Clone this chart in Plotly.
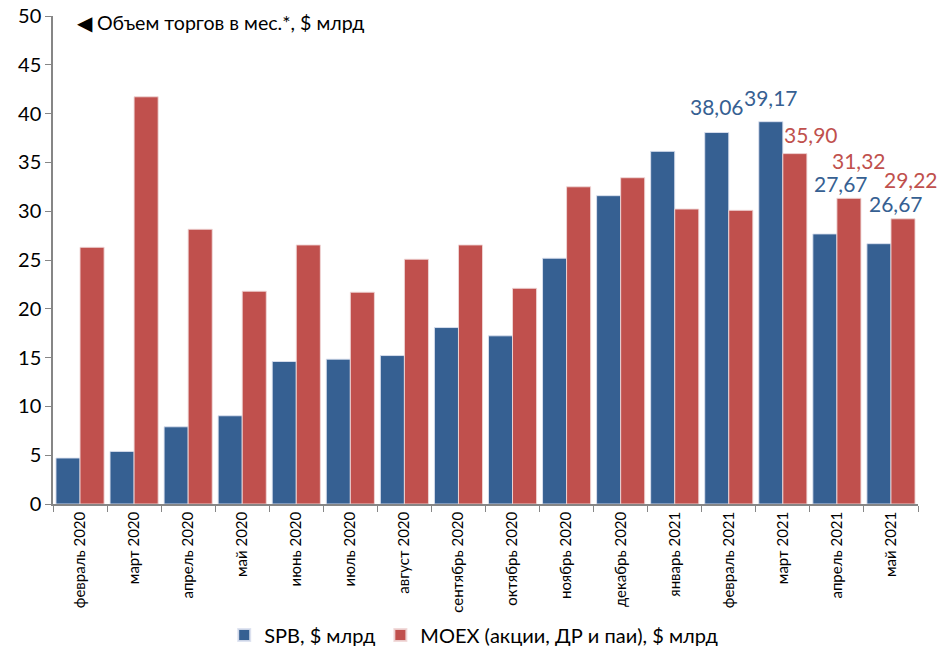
import plotly.graph_objects as go

categories = ["февраль 2020", "март 2020", "апрель 2020", "май 2020", "июнь 2020",
              "июль 2020", "август 2020", "сентябрь 2020", "октябрь 2020", "ноябрь 2020",
              "декабрь 2020", "январь 2021", "февраль 2021", "март 2021", "апрель 2021", "май 2021"]
spb = [4.71, 5.39, 7.91, 9.04, 14.60, 14.84, 15.21, 18.08, 17.23, 25.18,
       31.59, 36.13, 38.06, 39.17, 27.67, 26.67]
moex = [26.30, 41.72, 28.15, 21.80, 26.54, 21.70, 25.08, 26.54, 22.10, 32.50,
        33.43, 30.22, 30.09, 35.90, 31.32, 29.22]
spb_name = "SPB, $ млрд"
moex_name = "MOEX (акции, ДР и паи), $ млрд"
title_text = "◀ Объем торгов в мес.*, $ млрд"

# labelled bars: (series index, category index) -> (dx, dy) placement offsets in px
label_offsets = {
    (0, 12): (0, 26), (0, 13): (0, 24), (1, 13): (16, 19),
    (0, 14): (16, 50), (1, 14): (10, 38), (0, 15): (17, 40), (1, 15): (8, 39),
}

BLUE = "#366092"
RED = "#C0504D"
FONT = "Lato, 'Noto Sans', sans-serif"

fig = go.Figure()
fig.add_trace(go.Bar(x=categories, y=spb, name=spb_name, marker_color=BLUE,
                     marker_line=dict(color="rgba(220,225,240,0.9)", width=1)))
fig.add_trace(go.Bar(x=categories, y=moex, name=moex_name, marker_color=RED,
                     marker_line=dict(color="rgba(240,215,215,0.9)", width=1)))

series = [spb, moex]
colors = [BLUE, RED]
for (s, i), (dx, dy) in label_offsets.items():
    v = series[s][i]
    fig.add_annotation(x=categories[i], y=v, xref="x", yref="y",
                       text=f"{v:.2f}".replace(".", ","), showarrow=False,
                       xshift=(-12 if s == 0 else 12) + dx, yshift=dy,
                       yanchor="middle", xanchor="center", borderpad=0,
                       font=dict(size=21, color=colors[s], family=FONT))

fig.add_annotation(x=0.025, y=1.0, xref="paper", yref="paper", xanchor="left", yanchor="middle",
                   yshift=-6, text=title_text, showarrow=False,
                   font=dict(size=19.6, color="#000000", family=FONT))

fig.update_layout(
    width=938, height=647,
    margin=dict(l=53, r=20, t=16, b=143, autoexpand=False),
    paper_bgcolor="white", plot_bgcolor="white",
    barmode="group", bargap=0.11, bargroupgap=0,
    font=dict(family=FONT, color="#000000"),
    showlegend=True,
    legend=dict(orientation="h", x=0.505, xanchor="center", xref="container",
                y=0.0185, yanchor="middle", yref="container",
                bgcolor="rgba(0,0,0,0)",
                font=dict(size=20, family=FONT), itemsizing="constant"),
    xaxis=dict(type="category", range=[-0.5, len(categories) - 0.5], autorange=False,
               tickangle=-90, tickfont=dict(size=15, family=FONT),
               showline=True, linecolor="#868686", linewidth=1.5, automargin=False,
               ticks="outside", tickson="boundaries", ticklen=6, tickcolor="#868686",
               showgrid=False),
    yaxis=dict(range=[0, 50], autorange=False, dtick=5, tickfont=dict(size=20, family=FONT),
               showline=True, linecolor="#868686", linewidth=1.5, automargin=False,
               ticks="outside", ticklen=6, tickcolor="#868686",
               showgrid=False, zeroline=False),
)

fig.write_html("out.html", config={"displayModeBar": False},
               post_script="document.body.style.margin='0';")
